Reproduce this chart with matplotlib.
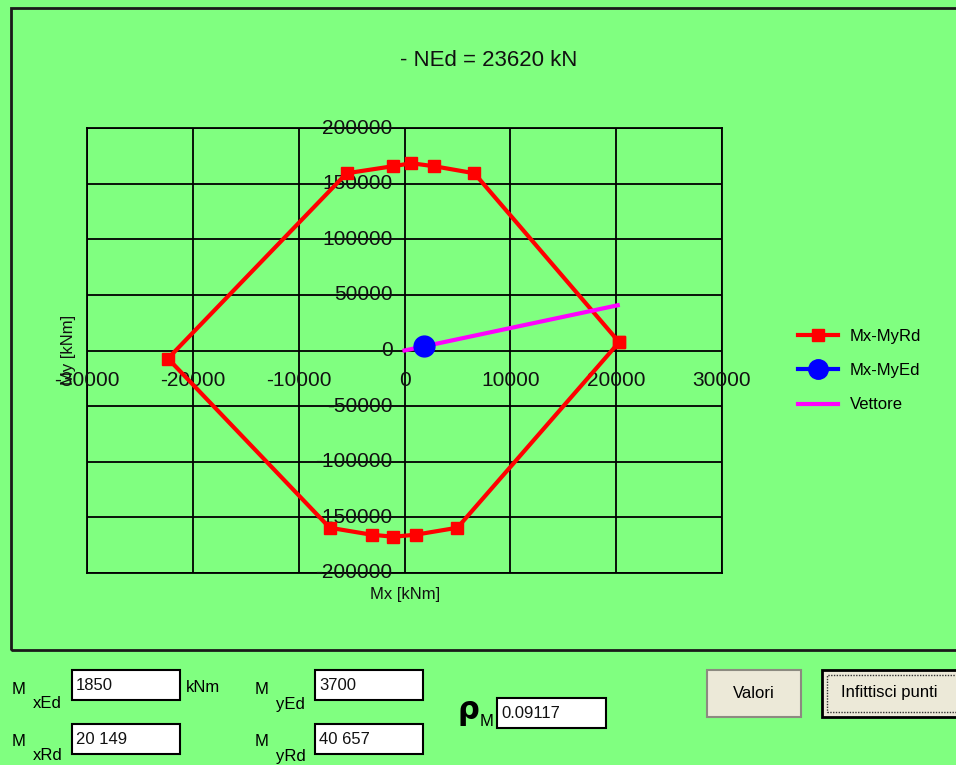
import matplotlib
matplotlib.use('Agg')
import matplotlib.pyplot as plt
from matplotlib.patches import Rectangle
from matplotlib.lines import Line2D
import numpy as np

plt.rcParams['font.family'] = ['Liberation Sans', 'DejaVu Sans']

# resisting domain Mx-MyRd (kNm)
mx_rd = [20280, 6600, 2830, 660, -1130, -5470, -22350,
         -7070, -3110, -1040, 1040, 5000]
my_rd = [7500, 159300, 165600, 168300, 165600, 159300, -7200,
         -159300, -165600, -167400, -165600, -159300]

# design point and vector
mx_ed = [1850]
my_ed = [3700]
vec_x = [0, 20149]
vec_y = [0, 40657]

x_ticks = [-30000, -20000, -10000, 0, 10000, 20000, 30000]
y_ticks = [-200000, -150000, -100000, -50000, 0, 50000, 100000, 150000, 200000]

title = '- NEd = 23620 kN'
legend_labels = ['Mx-MyRd', 'Mx-MyEd', 'Vettore']

# form fields
fields = [('M', 'xEd', '1850'), ('M', 'yEd', '3700'),
          ('M', 'xRd', '20 149'), ('M', 'yRd', '40 657')]
rho_value = '0.09117'

GREEN = '#80ff80'
W, H = 956, 765

fig = plt.figure(figsize=(W / 100, H / 100), dpi=100, facecolor=GREEN)


def fx(px):
    return px / W


def fy(py):
    return 1 - py / H


# outer frame of the chart panel
fig.add_artist(Rectangle((fx(11), fy(650)), fx(990 - 11), fy(8) - fy(650),
                         transform=fig.transFigure, fill=False,
                         edgecolor='#1a1a1a', lw=2))

ax = fig.add_axes([fx(87), fy(573), fx(722 - 87), fy(128) - fy(573)])
ax.set_facecolor(GREEN)
ax.set_xlim(x_ticks[0], x_ticks[-1])
ax.set_ylim(y_ticks[0], y_ticks[-1])
ax.set_xticks(x_ticks)
ax.set_yticks(y_ticks)
ax.tick_params(length=0, labelbottom=False, labelleft=False)
ax.grid(True, color='black', lw=1.3)
for sp in ax.spines.values():
    sp.set_color('black')
    sp.set_linewidth(1.3)

# tick labels sit on the zero lines
for xv in x_ticks:
    ax.annotate(str(xv), (xv, 0), xytext=(0, -30), textcoords='offset pixels',
                ha='center', va='center', fontsize=15, color='#111111')
for yv in y_ticks:
    ax.annotate(str(yv), (0, yv), xytext=(-12, 0), textcoords='offset pixels',
                ha='right', va='center', fontsize=15, color='#111111')

ax.text(fx(68), fy(350), 'My [kNm]', transform=fig.transFigure, rotation=90,
        ha='center', va='center', fontsize=12, color='#111111')
ax.text(fx(405), fy(595), 'Mx [kNm]', transform=fig.transFigure,
        ha='center', va='center', fontsize=12, color='#111111')

px = np.append(mx_rd, mx_rd[0])
py = np.append(my_rd, my_rd[0])
ax.plot(px, py, color='red', lw=3, marker='s', ms=8, zorder=3)
ax.plot(vec_x, vec_y, color='magenta', lw=3, zorder=4)
ax.plot(mx_ed, my_ed, color='blue', marker='o', ms=15, ls='none', zorder=5)

fig.text(fx(489), fy(60), title, ha='center', va='center', fontsize=16,
         color='#111111')

handles = [Line2D([], [], color='red', lw=3, marker='s', ms=8),
           Line2D([], [], color='blue', lw=3, marker='o', ms=14),
           Line2D([], [], color='magenta', lw=3)]
fig.legend(handles, legend_labels, loc='upper left',
           bbox_to_anchor=(fx(783), fy(314)), frameon=False, fontsize=12,
           handlelength=2.4, labelspacing=1.15, handletextpad=0.7)


# bottom form
def box(x0, y0, x1, y1, text):
    fig.add_artist(Rectangle((fx(x0), fy(y1)), fx(x1 - x0), fy(y0) - fy(y1),
                             transform=fig.transFigure, facecolor='white',
                             edgecolor='black', lw=1.5))
    fig.text(fx(x0 + 4), fy((y0 + y1) / 2), text, ha='left', va='center',
             fontsize=12, color='#111111')


slots = [(12, 690, 72, 670), (255, 690, 315, 670),
         (12, 742, 72, 724), (255, 742, 315, 724)]
for (lx, ly, bx, by), (m, sub, val) in zip(slots, fields):
    fig.text(fx(lx), fy(ly), m, ha='left', va='center', fontsize=12)
    fig.text(fx(lx + 21), fy(ly + 14), sub, ha='left', va='center', fontsize=12)
    box(bx, by, bx + 108, by + 30, val)

fig.text(fx(186), fy(688), 'kNm', ha='left', va='center', fontsize=12)

fig.text(fx(457), fy(711), 'ρ', ha='left', va='center', fontsize=22,
         family='DejaVu Sans', fontweight='bold')
fig.text(fx(480), fy(721), 'M', ha='left', va='center', fontsize=12)
box(497, 698, 606, 728, rho_value)

# buttons
fig.add_artist(Rectangle((fx(707), fy(717)), fx(94), fy(670) - fy(717),
                         transform=fig.transFigure, facecolor='#ece9d8',
                         edgecolor='#8c8a80', lw=1.5))
fig.text(fx(754), fy(693), 'Valori', ha='center', va='center', fontsize=12)
fig.add_artist(Rectangle((fx(822), fy(717)), fx(140), fy(670) - fy(717),
                         transform=fig.transFigure, facecolor='#ece9d8',
                         edgecolor='black', lw=2))
fig.add_artist(Rectangle((fx(827), fy(712)), fx(140), fy(675) - fy(712),
                         transform=fig.transFigure, fill=False,
                         edgecolor='#333333', lw=1, ls=(0, (1, 1))))
fig.text(fx(889), fy(693), 'Infittisci punti', ha='center', va='center',
         fontsize=12)

fig.savefig('out.png', dpi=100, facecolor=GREEN)
